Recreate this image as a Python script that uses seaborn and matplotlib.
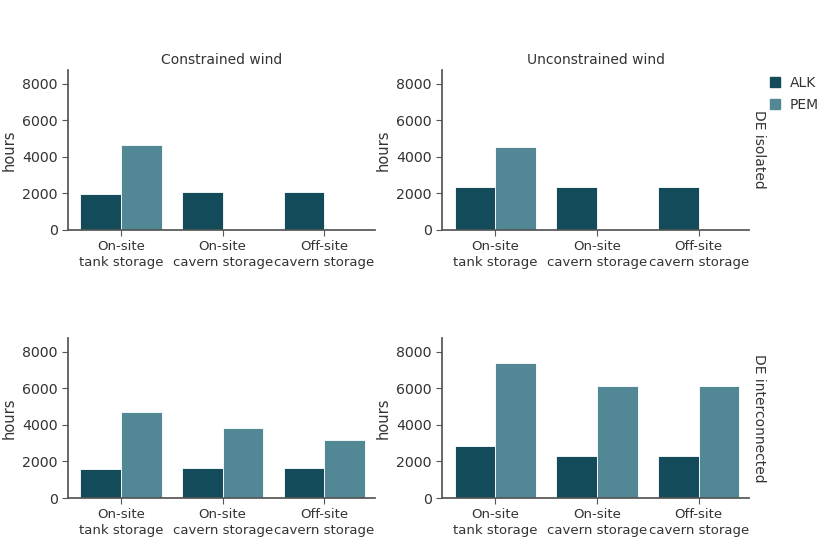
import matplotlib
matplotlib.use("Agg")
import matplotlib.pyplot as plt
import seaborn as sns
import pandas as pd
from matplotlib.lines import Line2D

categories = ["On-site\ntank storage", "On-site\ncavern storage", "Off-site\ncavern storage"]
technologies = ["ALK", "PEM"]
columns = ["Constrained wind", "Unconstrained wind"]
rows = ["DE isolated", "DE interconnected"]

# hours per (row, column): ALK values, PEM values by category
alk_iso_con = [1975, 2068, 2068]
pem_iso_con = [4640, 15, 10]
alk_iso_unc = [2330, 2360, 2370]
pem_iso_unc = [4530, 15, 15]
alk_int_con = [1590, 1660, 1660]
pem_int_con = [4690, 3830, 3170]
alk_int_unc = [2840, 2300, 2300]
pem_int_unc = [7400, 6110, 6110]

colors = ["#134b5a", "#528796"]

panels = {
    ("DE isolated", "Constrained wind"): (alk_iso_con, pem_iso_con),
    ("DE isolated", "Unconstrained wind"): (alk_iso_unc, pem_iso_unc),
    ("DE interconnected", "Constrained wind"): (alk_int_con, pem_int_con),
    ("DE interconnected", "Unconstrained wind"): (alk_int_unc, pem_int_unc),
}

records = []
for (r, c), (alk, pem) in panels.items():
    for cat, a, p in zip(categories, alk, pem):
        records.append(dict(row=r, col=c, storage=cat, tech="ALK", hours=a))
        records.append(dict(row=r, col=c, storage=cat, tech="PEM", hours=p))
df = pd.DataFrame(records)

sns.set_theme(style="ticks")
plt.rcParams["font.family"] = ["DejaVu Sans"]
text_color = "#333333"
plt.rcParams["axes.edgecolor"] = "#555555"
plt.rcParams["xtick.color"] = "#555555"
plt.rcParams["ytick.color"] = "#555555"
plt.rcParams["xtick.labelcolor"] = text_color
plt.rcParams["ytick.labelcolor"] = text_color

fig = plt.figure(figsize=(8.30, 5.54), dpi=100)
lefts = [0.082, 0.533]
bottoms = [0.585, 0.101]
w, h = 0.37, 0.289

for i, r in enumerate(rows):
    for j, c in enumerate(columns):
        ax = fig.add_axes([lefts[j], bottoms[i], w, h])
        sub = df[(df.row == r) & (df.col == c)]
        sns.barplot(data=sub, x="storage", y="hours", hue="tech",
                    order=categories, hue_order=technologies,
                    palette=colors, saturation=1, edgecolor="white", linewidth=0.6,
                    width=0.8, ax=ax, legend=False)
        ax.set_ylim(0, 8750)
        ax.set_xlim(-0.52, 2.5)
        ax.set_yticks([0, 2000, 4000, 6000, 8000])
        ax.set_xlabel("")
        ax.set_ylabel("hours", fontsize=10.5, color=text_color)
        ax.tick_params(axis="y", labelsize=10.2, length=4, width=0.8)
        ax.tick_params(axis="x", labelsize=9.5, length=4, width=0.8)
        for lab in ax.get_xticklabels():
            lab.set_linespacing(1.3)
        sns.despine(ax=ax)
        if i == 0:
            ax.set_title(c, fontsize=10, color=text_color, pad=4)
        if j == 1:
            ax.text(1.03, 0.5, r, transform=ax.transAxes, rotation=270,
                    va="center", ha="center", fontsize=10, color=text_color)

handles = [Line2D([0], [0], marker="s", linestyle="", markersize=6.5,
                  markerfacecolor=col, markeredgecolor=col) for col in colors]
fig.legend(handles, technologies, loc="upper left", bbox_to_anchor=(0.91, 0.886),
           frameon=False, fontsize=10, handletextpad=0.6, labelspacing=0.6,
           handlelength=1.0, labelcolor=text_color)

fig.savefig("out.png", dpi=100)
